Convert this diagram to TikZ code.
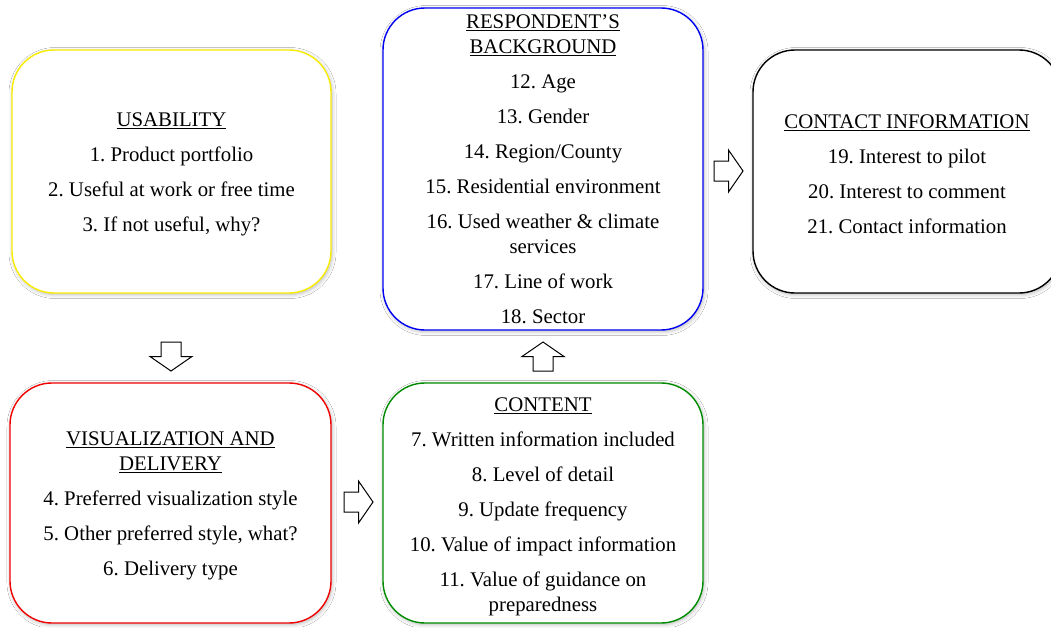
\documentclass[tikz,border=0pt]{standalone}
\usepackage{fontspec}
\setmainfont{Liberation Serif}
\usetikzlibrary{shadows.blur}
\definecolor{cyellow}{RGB}{248,236,0}
\definecolor{cred}{RGB}{240,0,0}
\definecolor{cgreen}{RGB}{0,140,0}
\definecolor{cblue}{RGB}{0,0,245}
\newcommand\itemgap{\\[10pt]}
\frenchspacing
\tikzset{
  card/.style={draw, line width=1.4pt, rounded corners=42pt, fill=white, inner sep=0pt,
    blur shadow={shadow xshift=1pt, shadow yshift=-1.5pt, shadow blur radius=4pt, shadow opacity=30}},
  cardtext/.style={align=center, inner sep=0pt, font=\rmfamily\frenchspacing\fontsize{20.8}{25}\selectfont},
  barrow/.pic={
    \draw[line width=1pt, fill=white, line join=miter]
      (-14.5pt,-10pt) -- (0pt,-10pt) -- (0pt,-21pt) -- (14.5pt,0pt)
      -- (0pt,21pt) -- (0pt,10pt) -- (-14.5pt,10pt) -- cycle;
  }
}
\begin{document}
\begin{tikzpicture}[x=1pt,y=-1pt]
\useasboundingbox (0,0) rectangle (1051,627);
\fill[white] (0,0) rectangle (1051,627);

\node[card, draw=cyellow, minimum width=319pt, minimum height=243pt] (usab) at (171.5,171.5) {};
\node[cardtext] (usab-text) at ([yshift=-3pt]usab.center)
  {\underline{USABILITY}\itemgap 1. Product portfolio\itemgap 2. Useful at work or free time\itemgap 3. If not useful, why?};

\node[card, draw=cred, minimum width=321pt, minimum height=240pt] (vis) at (170.5,503) {};
\node[cardtext] (vis-text) at ([yshift=-3pt]vis.center)
  {\underline{VISUALIZATION AND}\\\underline{DELIVERY}\itemgap 4. Preferred visualization style\itemgap 5. Other preferred style, what?\itemgap 6. Delivery type};

\node[card, draw=cgreen, minimum width=320pt, minimum height=240pt] (cont) at (543,503) {};
\node[cardtext] (cont-text) at ([yshift=-4pt]cont.center)
  {\underline{CONTENT}\itemgap 7. Written information included\itemgap 8. Level of detail\itemgap 9. Update frequency\itemgap 10. Value of impact information\itemgap 11. Value of guidance on\\preparedness};

\node[card, draw=cblue, minimum width=320pt, minimum height=322pt] (resp) at (543,169) {};
\node[cardtext] (resp-text) at (resp.center)
  {\underline{RESPONDENT’S}\\\underline{BACKGROUND}\itemgap 12. Age\itemgap 13. Gender\itemgap 14. Region/County\itemgap 15. Residential environment\itemgap 16. Used weather \& climate\\services\itemgap 17. Line of work\itemgap 18. Sector};

\node[card, draw=black, minimum width=308pt, minimum height=243pt] (contact) at (907,171.5) {};
\node[cardtext] (contact-text) at ([yshift=-2.5pt]contact.center)
  {\underline{CONTACT INFORMATION}\itemgap 19. Interest to pilot\itemgap 20. Interest to comment\itemgap 21. Contact information};

\coordinate (a1) at (171,356.5);
\coordinate (a2) at (358.5,502);
\coordinate (a3) at (543,356.5);
\coordinate (a4) at (728.5,171);
\pic[rotate=-90] at (a1) {barrow};
\pic at (a2) {barrow};
\pic[rotate=90] at (a3) {barrow};
\pic at (a4) {barrow};
\end{tikzpicture}
\end{document}
